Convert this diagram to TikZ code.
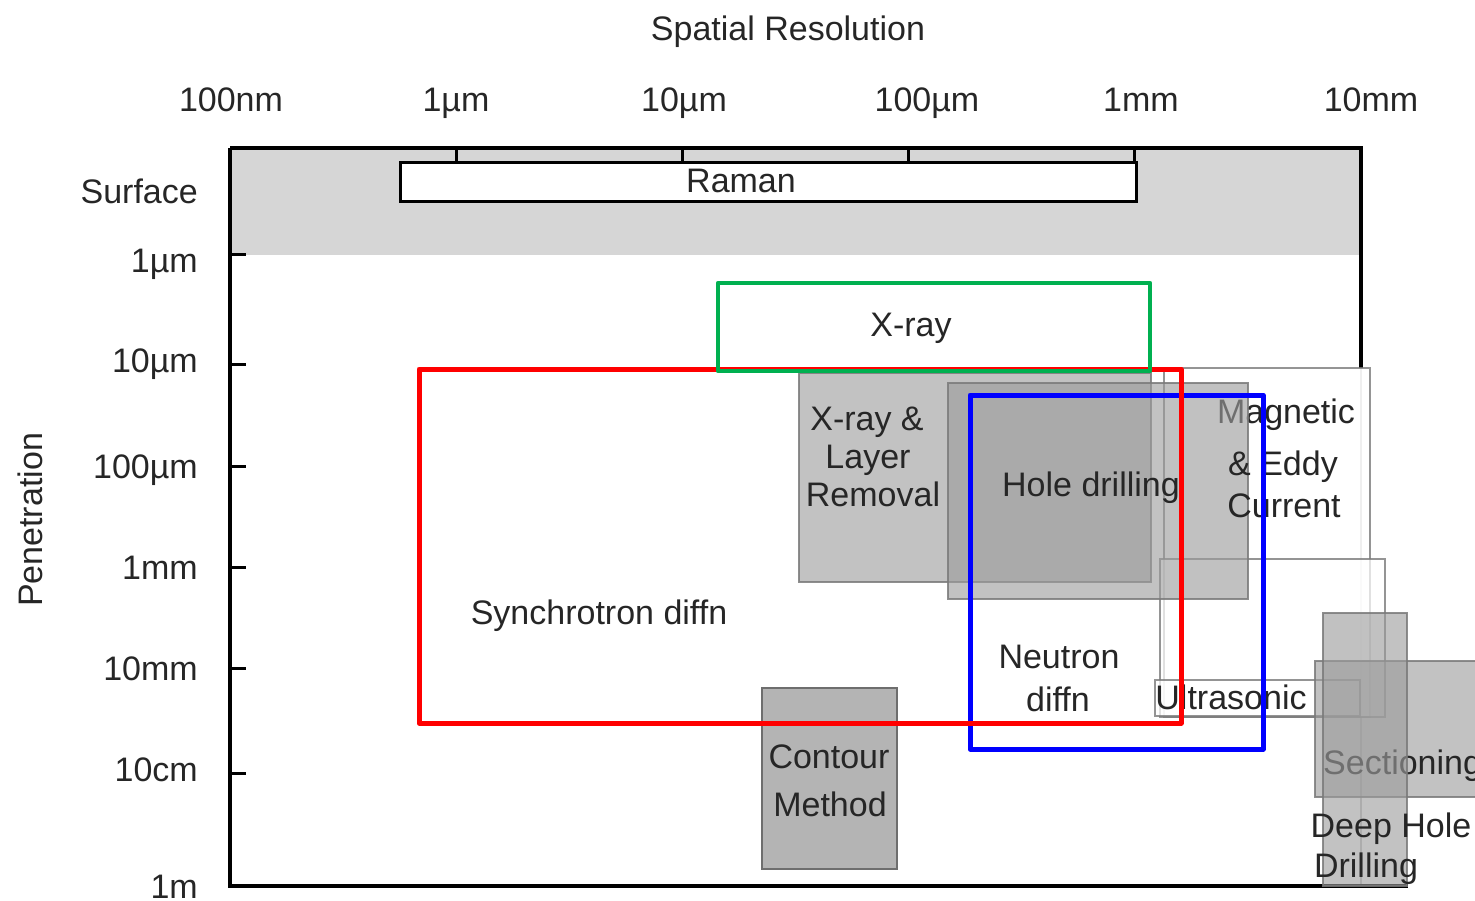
\documentclass[tikz,border=0pt]{standalone}
\usepackage{fontspec}
\setmainfont{Liberation Sans}
\definecolor{ink}{HTML}{262626}
\definecolor{band}{HTML}{D6D6D6}
\definecolor{boxgray}{HTML}{9C9C9C}
\definecolor{edgegray}{HTML}{7A7A7A}
\definecolor{contourfill}{HTML}{B4B4B4}
\definecolor{contouredge}{HTML}{6E6E6E}
\definecolor{xgreen}{HTML}{00B050}
\begin{document}
\begin{tikzpicture}[x=1pt,y=-1pt,
  lbl/.style={font=\fontsize{34}{40}\selectfont, text=ink, inner sep=0pt, anchor=base},
  ylbl/.style={lbl, anchor=base east},
  frameline/.style={line width=3.5pt, black},
  tickline/.style={line width=3pt, black},
  graybox/.style={fill=boxgray, fill opacity=0.62, draw=edgegray, draw opacity=0.85, line width=2pt},
  whitebox/.style={fill=white, fill opacity=0.72, draw=edgegray, draw opacity=0.8, line width=2pt},
  method/.style={line width=5pt, line join=round}
]
\useasboundingbox (0,0) rectangle (1475,901);

% surface band and plot frame
\fill[band] (230,148) rectangle (1361,255);
\draw[frameline] (230,148) -- (1361,148) -- (1361,368);
\draw[line width=2.5pt, black!22] (1361,368) -- (1361,886);
\draw[frameline] (230,148) -- (230,886) -- (1408,886);

% axis ticks
\foreach \x in {456,682,908,1134} \draw[tickline] (\x,148) -- (\x,167);
\foreach \y in {255,364,466,567,668,773} \draw[tickline] (230,\y) -- (246,\y);

% Raman
\draw[line width=3pt, fill=white] (400,163) rectangle (1136,202);
\node[lbl] (raman) at (741,193) {Raman};

% axis titles and labels
\node[lbl] (xtitle) at (788,41) {Spatial Resolution};
\node[lbl, rotate=90] (ytitle) at (42,520) {Penetration};
\node[lbl] (x1) at (231,112) {100nm};
\node[lbl] (x2) at (456,112) {1µm};
\node[lbl] (x3) at (684,112) {10µm};
\node[lbl] (x4) at (927,112) {100µm};
\node[lbl] (x5) at (1141,112) {1mm};
\node[lbl] (x6) at (1371,112) {10mm};
\node[ylbl] (y0) at (198,204) {Surface};
\node[ylbl] (y1) at (198,273) {1µm};
\node[ylbl] (y2) at (198,372) {10µm};
\node[ylbl] (y3) at (198,478) {100µm};
\node[ylbl] (y4) at (198,579) {1mm};
\node[ylbl] (y5) at (198,680) {10mm};
\node[ylbl] (y6) at (198,781) {10cm};
\node[ylbl] (y7) at (198,898) {1m};

% Magnetic & Eddy Current
\draw[whitebox] (1164,368) rectangle (1370,717);
\node[lbl] (mag1) at (1286,423) {Magnetic};

% Ultrasonic
\draw[whitebox] (1160,559) rectangle (1385,717);
\draw[whitebox] (1155,680) rectangle (1360,716);
\node[lbl] (ultra) at (1231,709) {Ultrasonic};

% X-ray & layer removal
\draw[graybox] (799,373) rectangle (1151,582);
\node[lbl] (xl1) at (867,430) {X-ray \&};
\node[lbl] (xl2) at (868,468) {Layer};
\node[lbl] (xl3) at (873,506) {Removal};

% Hole drilling
\draw[graybox] (948,383) rectangle (1248,599);
\node[lbl] (hole) at (1091,496) {Hole drilling};
\node[lbl] (mag2) at (1283,475) {\& Eddy};
\node[lbl] (mag3) at (1284,517) {Current};

% Sectioning
\draw[graybox] (1315,661) rectangle (1480,797);
\node[lbl, anchor=base west] (sect) at (1323,774) {Sectioning};

% Deep hole drilling
\draw[graybox] (1323,613) rectangle (1407,886);
\node[lbl] (dhd1) at (1391,837) {Deep Hole};
\node[lbl] (dhd2) at (1366,877) {Drilling};

% Contour method
\draw[fill=contourfill, draw=contouredge, line width=2.5pt] (762,688) rectangle (897,869);
\node[lbl] (cont1) at (829,768) {Contour};
\node[lbl] (cont2) at (830,816) {Method};

% diffraction texts
\node[lbl] (synch) at (599,624) {Synchrotron diffn};
\node[lbl] (neut1) at (1059,668) {Neutron};
\node[lbl] (neut2) at (1058,711) {diffn};

% highlighted technique ranges
\draw[method, blue] (970,395) rectangle (1263,749);
\draw[method, red] (419,369) rectangle (1181,723);
\draw[method, xgreen, line width=4.5pt] (718,283) rectangle (1150,371);
\node[lbl] (xray) at (911,336) {X-ray};
\end{tikzpicture}
\end{document}
